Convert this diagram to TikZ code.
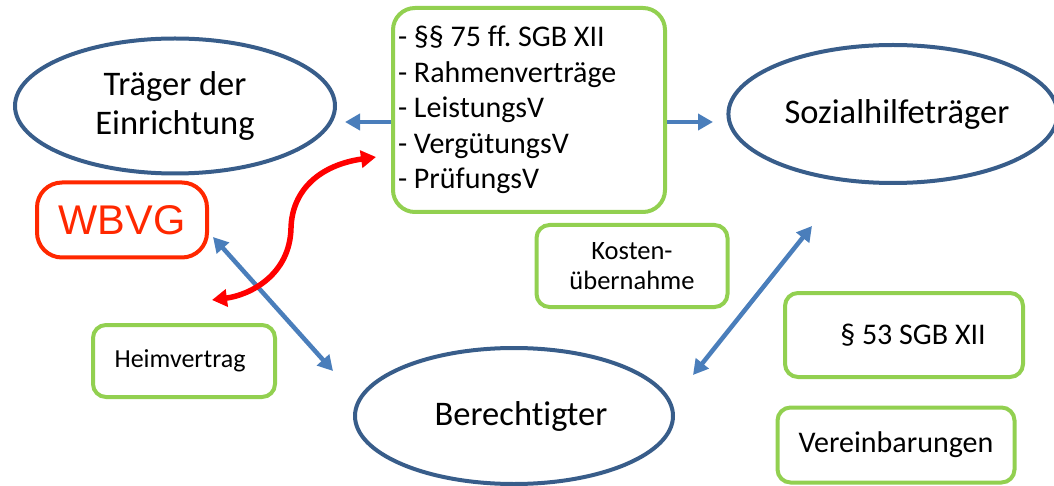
\documentclass[tikz,border=0pt]{standalone}
\usepackage{fontspec}
\setmainfont[Ligatures=NoCommon]{Carlito}
\newfontfamily\arialfont{Liberation Sans}
\usetikzlibrary{shapes.geometric,arrows.meta,positioning}
\frenchspacing

\definecolor{ellblau}{RGB}{56,93,138}
\definecolor{pfeilblau}{RGB}{74,126,187}
\definecolor{kastengruen}{RGB}{146,208,80}
\definecolor{wbvgrot}{RGB}{255,40,0}

\begin{document}
\begin{tikzpicture}[x=1pt,y=-1pt,
    partei/.style={ellipse, draw=ellblau, line width=4pt, inner sep=0pt, align=center,
                   font=\fontsize{34.5}{39}\selectfont},
    normbox/.style={rectangle, rounded corners=13pt, draw=kastengruen, line width=4pt,
                    inner sep=0pt, align=center},
    blaupfeil/.style={draw=pfeilblau, line width=4.5pt, -{Triangle[length=15pt,width=16pt]}},
    doppelpfeil/.style={blaupfeil, {Triangle[length=15pt,width=16pt]}-{Triangle[length=15pt,width=16pt]}},
    rotpfeil/.style={draw=red, line width=5.5pt,
                     {Triangle[length=15pt,width=17pt]}-{Triangle[length=15pt,width=17pt]}}]
                \useasboundingbox (0,0) rectangle (1054,486);

                % Parteien
                \node [partei, minimum width=320pt, minimum height=135pt] (traeger) at (175,106) {Träger der\\Einrichtung};
                \node [partei, minimum width=328pt, minimum height=138pt] (sozial) at (893,114) {\hspace*{8pt}Sozialhilfeträger};
                \node [partei, minimum width=318pt, minimum height=136pt] (berechtigter) at (514,416) {\hspace*{14pt}Berechtigter};

                % Rechtsgrundlagen
                \node [normbox, rounded corners=22pt, minimum height=204pt, text width=262pt, inner sep=5pt, align=flush left,
                       font=\fontsize{30}{35.5}\selectfont] (liste) at (529,110)
                      {- §§ 75 ff. SGB XII\\- Rahmenverträge\\- LeistungsV\\- VergütungsV\\- PrüfungsV};
                \node [normbox, minimum width=191pt, minimum height=82pt, font=\fontsize{26.5}{30}\selectfont] (kosten) at (632,266) {Kosten-\\übernahme};
                \node [normbox, minimum width=238pt, minimum height=84pt, font=\fontsize{30}{34}\selectfont] (sgb) at (904,335) {\hspace*{18pt}§ 53 SGB XII};
                \node [normbox, minimum width=237pt, minimum height=75pt, font=\fontsize{30}{34}\selectfont] (vereinb) at (896,445) {Vereinbarungen};
                \node [normbox, minimum width=182pt, minimum height=72pt, font=\fontsize{26}{30}\selectfont] (heim) at (184,361) {Heimvertrag\hspace*{8pt}};
                \node [rectangle, rounded corners=25pt, draw=wbvgrot, line width=4pt, minimum width=170pt, minimum height=75pt,
                       text=wbvgrot, font=\arialfont\fontsize{41.5}{46}\selectfont] (wbvg) at (122,220) {WBVG};

                % Pfeilenden
                \coordinate (zielL) at (345,122);
                \coordinate (zielR) at (713,122);
                \coordinate (wbvgE) at (213,237);
                \coordinate (berE) at (333,371);
                \coordinate (berS) at (693,375);
                \coordinate (sozS) at (812,226);
                \coordinate (rotO) at (376,157);
                \coordinate (rotU) at (212,300);

                \draw [blaupfeil] (liste.west |- zielL) -- (zielL);
                \draw [blaupfeil] (liste.east |- zielR) -- (zielR);
                \draw [doppelpfeil] (wbvgE) -- (berE);
                \draw [doppelpfeil] (berS) -- (sozS);
                \draw [rotpfeil] (rotO) .. controls (320,165) and (292,190) .. (291,228)
                                 .. controls (290,275) and (250,295) .. (rotU);
            \end{tikzpicture}
\end{document}
